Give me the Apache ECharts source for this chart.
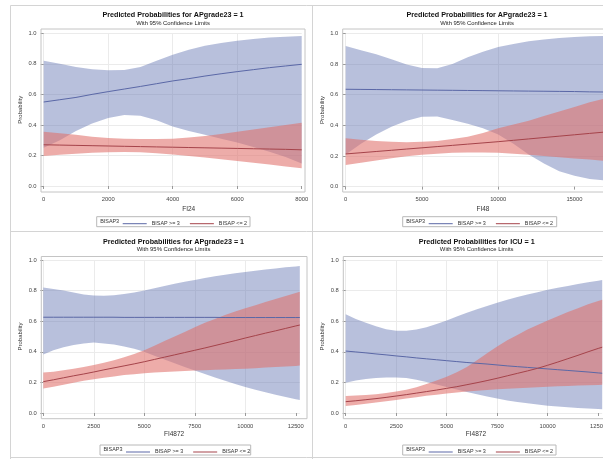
<!DOCTYPE html>
<html><head><meta charset="utf-8">
<script src="https://cdn.jsdelivr.net/npm/echarts@6/dist/echarts.min.js"></script>
<style>html,body{margin:0;padding:0;background:#fff}#c{width:603px;height:459px}</style>
</head><body><div id="c"></div>
<script>
// ---------- data ----------
const titles = ['Predicted Probabilities for APgrade23 = 1','Predicted Probabilities for APgrade23 = 1','Predicted Probabilities for APgrade23 = 1','Predicted Probabilities for ICU = 1'];
const subtitle = 'With 95% Confidence Limits';
const xNames = ['FI24','FI48','FI4872','FI4872'];
const yName = 'Probability';
const legendTitle = 'BISAP3';
const seriesNames = ['BISAP >= 3','BISAP <= 2'];
const p1Ticks = [0,2000,4000,6000,8000];
const p2Ticks = [0,5000,10000,15000];
const p3Ticks = [0,2500,5000,7500,10000,12500];
const p4Ticks = [0,2500,5000,7500,10000,12500];

const p1X = [0,500,1000,1500,2000,2500,3000,3500,4000,4500,5000,5500,6000,6500,7000,7500,8000];
const p1BlueHigh = [0.82,0.80,0.78,0.765,0.758,0.76,0.78,0.82,0.86,0.893,0.918,0.937,0.952,0.963,0.972,0.978,0.982];
const p1BlueMean = [0.55,0.565,0.58,0.6,0.618,0.635,0.652,0.67,0.688,0.703,0.72,0.735,0.749,0.762,0.775,0.786,0.797];
const p1BlueLow  = [0.25,0.30,0.36,0.41,0.445,0.465,0.46,0.43,0.39,0.36,0.335,0.31,0.285,0.255,0.225,0.19,0.148];
const p1RedHigh  = [0.356,0.345,0.335,0.323,0.315,0.31,0.307,0.307,0.31,0.318,0.328,0.34,0.355,0.37,0.385,0.40,0.415];
const p1RedMean  = [0.27,0.268,0.266,0.264,0.262,0.26,0.258,0.256,0.254,0.252,0.25,0.248,0.246,0.244,0.242,0.24,0.237];
const p1RedLow   = [0.197,0.205,0.212,0.217,0.221,0.222,0.221,0.215,0.207,0.197,0.186,0.175,0.164,0.152,0.14,0.128,0.117];

const p2X = [0,1000,2000,3000,4000,5000,6000,7000,8000,9000,10000,11000,12000,13000,14000,15000,16000,17000];
const p2BlueHigh = [0.917,0.89,0.863,0.83,0.796,0.774,0.772,0.80,0.843,0.88,0.91,0.93,0.948,0.96,0.97,0.976,0.98,0.983];
const p2BlueMean = [0.635,0.634,0.633,0.632,0.631,0.63,0.629,0.628,0.627,0.626,0.625,0.624,0.623,0.622,0.621,0.62,0.618,0.617];
const p2BlueLow  = [0.21,0.28,0.34,0.39,0.43,0.455,0.458,0.435,0.41,0.38,0.34,0.28,0.21,0.15,0.10,0.07,0.05,0.04];
const p2RedHigh  = [0.315,0.305,0.297,0.292,0.29,0.292,0.297,0.31,0.325,0.35,0.38,0.405,0.43,0.46,0.49,0.52,0.55,0.575];
const p2RedMean  = [0.213,0.221,0.229,0.237,0.245,0.253,0.261,0.269,0.277,0.285,0.293,0.302,0.311,0.32,0.329,0.338,0.347,0.356];
const p2RedLow   = [0.141,0.155,0.17,0.185,0.198,0.208,0.215,0.22,0.222,0.222,0.22,0.215,0.208,0.2,0.192,0.184,0.176,0.168];

const p3X = [0,500,1000,1500,2000,2500,3000,3500,4000,4500,5000,5500,6000,6500,7000,7500,8000,8500,9000,9500,10000,10500,11000,11500,12000,12500,12700];
const p3BlueHigh = [0.82,0.81,0.80,0.787,0.775,0.768,0.767,0.77,0.777,0.788,0.80,0.815,0.83,0.845,0.858,0.87,0.882,0.893,0.903,0.913,0.922,0.93,0.938,0.945,0.952,0.958,0.96];
const p3BlueMean = [0.626,0.626,0.626,0.626,0.626,0.626,0.626,0.626,0.625,0.625,0.625,0.625,0.625,0.625,0.625,0.625,0.625,0.625,0.624,0.624,0.624,0.624,0.624,0.624,0.624,0.624,0.624];
const p3BlueLow  = [0.383,0.41,0.43,0.445,0.455,0.46,0.455,0.447,0.435,0.42,0.40,0.375,0.35,0.325,0.30,0.277,0.255,0.232,0.21,0.19,0.17,0.152,0.135,0.12,0.105,0.09,0.085];
const p3RedHigh  = [0.264,0.27,0.28,0.29,0.30,0.313,0.328,0.345,0.365,0.386,0.41,0.44,0.47,0.5,0.53,0.56,0.59,0.615,0.64,0.663,0.685,0.705,0.725,0.745,0.765,0.785,0.793];
const p3RedMean  = [0.205,0.217,0.23,0.243,0.255,0.268,0.282,0.295,0.308,0.321,0.335,0.35,0.365,0.38,0.395,0.41,0.425,0.441,0.457,0.473,0.49,0.506,0.522,0.537,0.553,0.569,0.575];
const p3RedLow   = [0.16,0.172,0.185,0.197,0.21,0.22,0.23,0.239,0.248,0.254,0.26,0.264,0.268,0.271,0.274,0.277,0.279,0.282,0.284,0.287,0.29,0.293,0.297,0.30,0.304,0.308,0.31];

const p4X = [0,500,1000,1500,2000,2500,3000,3500,4000,4500,5000,5500,6000,6500,7000,7500,8000,8500,9000,9500,10000,10500,11000,11500,12000,12500,12700];
const p4BlueHigh = [0.645,0.615,0.59,0.567,0.548,0.538,0.537,0.545,0.56,0.582,0.605,0.63,0.655,0.678,0.70,0.72,0.74,0.758,0.775,0.79,0.805,0.818,0.83,0.843,0.855,0.865,0.87];
const p4BlueMean = [0.405,0.399,0.393,0.386,0.38,0.373,0.367,0.36,0.354,0.348,0.342,0.336,0.33,0.325,0.32,0.314,0.308,0.303,0.298,0.293,0.288,0.283,0.278,0.273,0.268,0.262,0.26];
const p4BlueLow  = [0.198,0.212,0.222,0.229,0.232,0.232,0.228,0.218,0.203,0.187,0.17,0.154,0.138,0.122,0.108,0.094,0.082,0.072,0.063,0.055,0.048,0.042,0.037,0.033,0.029,0.026,0.025];
const p4RedHigh  = [0.111,0.114,0.118,0.123,0.13,0.14,0.152,0.168,0.19,0.212,0.237,0.267,0.30,0.345,0.39,0.434,0.475,0.51,0.545,0.575,0.605,0.633,0.66,0.685,0.71,0.732,0.74];
const p4RedMean  = [0.074,0.08,0.087,0.094,0.102,0.111,0.12,0.13,0.14,0.15,0.161,0.172,0.185,0.198,0.212,0.227,0.243,0.259,0.275,0.292,0.312,0.333,0.355,0.377,0.4,0.422,0.43];
const p4RedLow   = [0.046,0.053,0.06,0.068,0.077,0.085,0.094,0.103,0.112,0.12,0.128,0.134,0.14,0.145,0.15,0.155,0.159,0.162,0.165,0.169,0.172,0.175,0.177,0.179,0.181,0.183,0.184];

// ---------- layout / style ----------
const FONT = '"Liberation Sans", Arial, sans-serif';
const BLUE_BAND = 'rgba(97,115,177,0.45)';
const RED_BAND = 'rgba(224,112,106,0.58)';
const BLUE_LINE = '#5a67a6';
const RED_LINE = '#a5434a';

const panels = [
  {x:p1X, bh:p1BlueHigh, bm:p1BlueMean, bl:p1BlueLow, rh:p1RedHigh, rm:p1RedMean, rl:p1RedLow, ticks:p1Ticks},
  {x:p2X, bh:p2BlueHigh, bm:p2BlueMean, bl:p2BlueLow, rh:p2RedHigh, rm:p2RedMean, rl:p2RedLow, ticks:p2Ticks},
  {x:p3X, bh:p3BlueHigh, bm:p3BlueMean, bl:p3BlueLow, rh:p3RedHigh, rm:p3RedMean, rl:p3RedLow, ticks:p3Ticks},
  {x:p4X, bh:p4BlueHigh, bm:p4BlueMean, bl:p4BlueLow, rh:p4RedHigh, rm:p4RedMean, rl:p4RedLow, ticks:p4Ticks}
];
const L = [
  {gx:43.7, gy:33.3, gw:258, gh:152.7, xMax:8000, xInt:2000, xOff:6, yOff:2.7, frame:[41,29,264,163], tx:173, ty:15, sy:23, box:[96.7,216.7,153.3,10], xNameGap:13.5, namePad:32},
  {gx:345.7, gy:33.3, gw:274.5, gh:153.3, xMax:18000, xInt:5000, xOff:5.4, yOff:3, frame:[342.7,29,300,163], tx:477, ty:15, sy:23, box:[402.7,216.7,154,10], xNameGap:13.5, namePad:0},
  {gx:43.3, gy:260, gw:256.5, gh:153, xMax:12700, xInt:2500, xOff:5.7, yOff:2, frame:[41.3,256.5,265.7,162.2], tx:173.5, ty:241.7, sy:249.3, box:[100,445,150.7,10], xNameGap:12, namePad:5},
  {gx:345.7, gy:260, gw:256.5, gh:153, xMax:12700, xInt:2500, xOff:5.7, yOff:2.4, frame:[343.3,256.5,300,162.2], tx:476.7, ty:241.7, sy:249.3, box:[402.7,445,153.3,10], xNameGap:12, namePad:4}
];

function band(idx, xs, lo, hi, color, z) {
  return {
    type:'custom', xAxisIndex:idx, yAxisIndex:idx, silent:true, z:z, clip:true,
    data:[[xs[0], lo[0]]],
    renderItem:function(params, api){
      const pts = [];
      for (let i=0;i<xs.length;i++) pts.push(api.coord([xs[i], hi[i]]));
      for (let i=xs.length-1;i>=0;i--) pts.push(api.coord([xs[i], lo[i]]));
      return {type:'polygon', shape:{points:pts}, style:{fill:color, stroke:null}};
    }
  };
}
function meanLine(idx, name, xs, ys, color) {
  return {type:'line', name:name, xAxisIndex:idx, yAxisIndex:idx, symbol:'none', z:5, silent:true,
    data:xs.map((v,i)=>[v, ys[i]]), lineStyle:{color:color, width:1}, itemStyle:{color:color}};
}

const series = [];
panels.forEach((p,i)=>{
  series.push(band(i, p.x, p.bl, p.bh, BLUE_BAND, 2));
  series.push(band(i, p.x, p.rl, p.rh, RED_BAND, 3));
  series.push(meanLine(i, seriesNames[0], p.x, p.bm, BLUE_LINE));
  series.push(meanLine(i, seriesNames[1], p.x, p.rm, RED_LINE));
});

const graphic = [];
const sepStyle = {stroke:'#d4d4d4', lineWidth:1};
[[10.5,5.5,603,5.5],[10.5,5.5,10.5,459],[312.5,5.5,312.5,459],[10.5,231.5,603,231.5],[10.5,457.5,603,457.5]].forEach(s=>{
  graphic.push({type:'line', silent:true, shape:{x1:s[0],y1:s[1],x2:s[2],y2:s[3]}, style:sepStyle, z:0});
});
L.forEach((l,i)=>{
  graphic.push({type:'rect', silent:true, z:10, shape:{x:l.frame[0],y:l.frame[1],width:l.frame[2],height:l.frame[3]}, style:{fill:null, stroke:'#c4c4c4', lineWidth:1}});
  graphic.push({type:'text', silent:true, x:l.tx, y:l.ty, style:{text:titles[i], font:'bold 7.2px '+FONT, fill:'#111', textAlign:'center', textVerticalAlign:'middle', align:'center', verticalAlign:'middle'}});
  graphic.push({type:'text', silent:true, x:l.tx, y:l.sy, style:{text:subtitle, font:'5.9px '+FONT, fill:'#222', textAlign:'center', textVerticalAlign:'middle', align:'center', verticalAlign:'middle'}});
  graphic.push({type:'rect', silent:true, shape:{x:l.box[0],y:l.box[1],width:l.box[2],height:l.box[3]}, style:{fill:null, stroke:'#b8b8b8', lineWidth:1}});
  graphic.push({type:'text', silent:true, x:l.box[0]+3.5, y:l.box[1]+l.box[3]/2, style:{text:legendTitle, font:'5.4px '+FONT, fill:'#333', textAlign:'left', textVerticalAlign:'middle', align:'left', verticalAlign:'middle'}});
});

const option = {
  backgroundColor:'#fff',
  animation:false,
  textStyle:{fontFamily:FONT},
  grid: L.map(l=>({left:l.gx, top:l.gy, width:l.gw, height:l.gh, containLabel:false, outerBoundsMode:'none'})),
  xAxis: L.map((l,i)=>({
    gridIndex:i, type:'value', min:0, max:l.xMax, interval:l.xInt, offset:l.xOff,
    name:xNames[i], nameLocation:'middle', nameGap:l.xNameGap,
    nameTextStyle:{fontSize:6.5, color:'#333', fontFamily:FONT, padding:[0,0,0,l.namePad]},
    axisLine:{show:false},
    axisTick:{show:true, length:3, lineStyle:{color:'#999'}, customValues:panels[i].ticks},
    axisLabel:{fontSize:5.8, color:'#444', margin:4.5, fontFamily:FONT, customValues:panels[i].ticks, formatter:v=>String(v)},
    splitLine:{show:true, showMaxLine:false, lineStyle:{color:'#ebebeb', width:1}}
  })),
  yAxis: L.map((l,i)=>({
    gridIndex:i, type:'value', min:0, max:1, interval:0.2, offset:l.yOff,
    name:yName, nameLocation:'middle', nameGap:17.5, nameRotate:90,
    nameTextStyle:{fontSize:6, color:'#333', fontFamily:FONT},
    axisLine:{show:false},
    axisTick:{show:true, length:3, lineStyle:{color:'#999'}},
    axisLabel:{fontSize:5.8, color:'#444', margin:4.5, fontFamily:FONT, formatter:v=>v.toFixed(1)},
    splitLine:{show:true, lineStyle:{color:'#ebebeb', width:1}}
  })),
  legend: L.map(l=>({
    left:l.box[0]+26, top:l.box[1]+l.box[3]/2-0.5, orient:'horizontal', padding:0,
    icon:'rect', itemWidth:24, itemHeight:1, itemGap:10, selectedMode:false,
    data:seriesNames, textStyle:{fontSize:5.4, color:'#333', fontFamily:FONT}
  })),
  series: series,
  graphic: graphic
};
const chart = echarts.init(document.getElementById('c'), null, {renderer:'canvas'});
chart.setOption(option);
</script></body></html>
